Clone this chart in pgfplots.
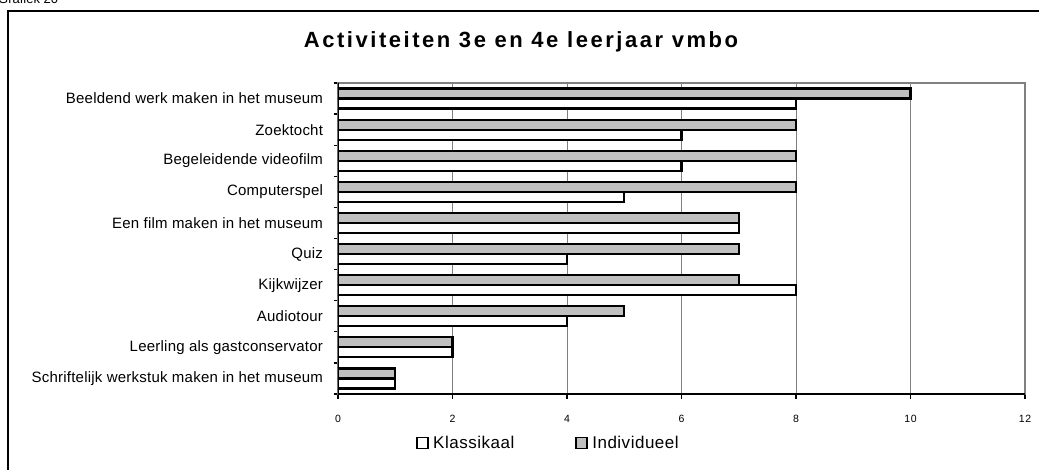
\documentclass[border=0pt]{standalone}
\usepackage{pgfplots}
\pgfplotsset{compat=1.18}
\usepackage{fontspec}
\setmainfont{Liberation Sans}
\newfontfamily\labfont[LetterSpace=1.5]{Liberation Sans}
\newfontfamily\titfont[LetterSpace=11.5]{Liberation Sans}
\newfontfamily\tickfont[LetterSpace=5]{Liberation Sans}
\newfontfamily\legfont[LetterSpace=3]{Liberation Sans}
\definecolor{barg}{HTML}{C0C0C0}
\definecolor{gridg}{HTML}{808080}
\begin{document}
\begin{tikzpicture}
\useasboundingbox (0pt,0pt) rectangle (1039pt,469pt);
\clip (0pt,0pt) rectangle (1039pt,469pt);
\node[anchor=base west, inner sep=0pt, font=\fontsize{13}{15}\selectfont] at (-2pt,465pt) {Grafiek 20};
\draw[line width=1.3pt] (8pt,-20pt) -- (8pt,458pt) -- (1060pt,458pt);
\node[anchor=base, inner sep=0pt, font=\titfont\bfseries\fontsize{22}{26}\selectfont] at (521pt,421pt) {Activiteiten 3e en 4e leerjaar vmbo};
\begin{axis}[
  at={(338pt,75pt)}, anchor=south west,
  width=687pt, height=311pt, scale only axis,
  xmin=0, xmax=12, ymin=-0.5, ymax=9.5,
  xtick={0,2,...,12},
  ytick={-0.5,0.5,...,9.5},
  yticklabels={,,,,,,,,,,,},
  extra y ticks={0,1,2,3,4,5,6,7,8,9},
  extra y tick labels={Schriftelijk werkstuk maken in het museum,Leerling als gastconservator,Audiotour,Kijkwijzer,Quiz,Een film maken in het museum,Computerspel,Begeleidende videofilm,Zoektocht,Beeldend werk maken in het museum},
  extra y tick style={tick style={draw=none}, yticklabel style={font=\labfont\fontsize{15}{17}\selectfont, xshift=-7pt}},
  tick pos=left,
  tick align=outside,
  major tick length=4.5pt,
  tick style={draw=black, line width=1.2pt},
  xmajorgrids,
  grid style={gridg, line width=1pt},
  axis line style={draw=gridg, line width=1.3pt},
  /pgf/number format/assume math mode=true,
  xticklabel style={font=\tickfont\fontsize{10.5}{12}\selectfont, yshift=-13pt},
  every axis plot/.append style={line width=2.2pt},
  legend columns=2,
  legend style={at={(axis description cs:0,0)}, anchor=west, xshift=78pt, yshift=-49pt, draw=none, fill=none, inner sep=0pt, font=\legfont\fontsize{17}{19}\selectfont, /tikz/every even column/.append style={column sep=59pt}},
  legend image code/.code={\draw[#1, line width=1.8pt] (0pt,-5.5pt) rectangle (11pt,5.5pt); \path (13pt,0pt);},
]
\addplot[xbar, bar width=10pt, bar shift=-5pt, fill=white, draw=black] coordinates {
(1,0) (2,1) (4,2) (8,3) (4,4) (7,5) (5,6) (6,7) (6,8) (8,9)};
\addlegendentry{Klassikaal}
\addplot[xbar, bar width=10pt, bar shift=5pt, fill=barg, draw=black] coordinates {
(1,0) (2,1) (5,2) (7,3) (7,4) (7,5) (8,6) (8,7) (8,8) (10,9)};
\addlegendentry{Individueel}
\draw[black, line width=1.3pt] (rel axis cs:0,1) -- (rel axis cs:0,0) -- (rel axis cs:1,0);
\end{axis}
\end{tikzpicture}
\end{document}
